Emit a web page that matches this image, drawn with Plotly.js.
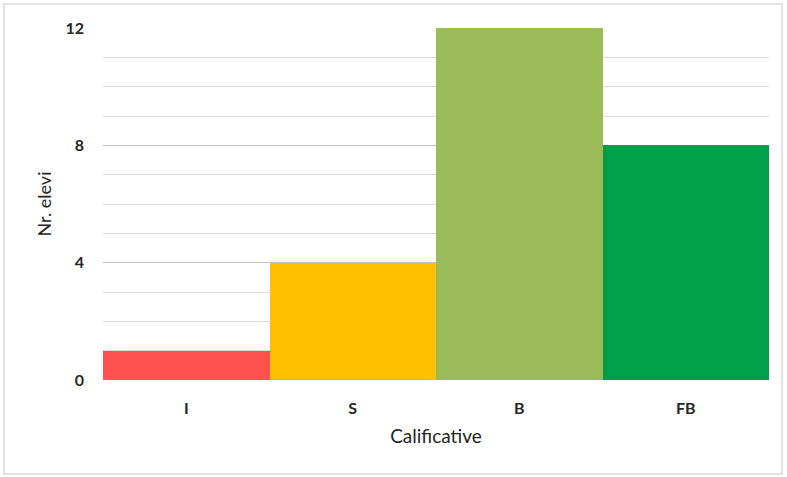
<!DOCTYPE html>
<html><head><meta charset="utf-8">
<script src="https://cdn.plot.ly/plotly-3.0.1.min.js"></script>
<style>html,body{margin:0;padding:0;background:#fff;}#chart{width:787px;height:477px;}</style>
</head><body><div id="chart"></div>
<script>
const categories = ['I', 'S', 'B', 'FB'];
const values = [1, 4, 12, 8];
const barColors = ['#FF5050', '#FFC000', '#9BBB59', '#00A04A'];
const yTicks = [0, 4, 8, 12];

const L = 103, R = 787 - 769, T = 28, B = 477 - 380;
const pw = 787 - L - R, ph = 477 - T - B;
const px = x => (x - L) / pw;
const py = y => (477 - B - y) / ph;

const data = [{
  type: 'bar', x: categories, y: values,
  marker: {color: barColors, line: {width: 0}},
  hoverinfo: 'x+y'
}];
const layout = {
  width: 787, height: 477,
  margin: {l: L, r: R, t: T, b: B},
  paper_bgcolor: '#fff', plot_bgcolor: '#fff',
  bargap: 0, showlegend: false,
  font: {family: 'Lato, "Open Sans", sans-serif', color: '#262626'},
  xaxis: {
    type: 'category', showgrid: false, zeroline: false, showline: false,
    ticks: '', ticklabelstandoff: 17,
    tickfont: {size: 16, color: '#262626', weight: 'bold'},
    title: {text: 'Calificative', font: {size: 19, color: '#262626'}, standoff: 13}
  },
  yaxis: {
    range: [0, 12], tickvals: yTicks, ticktext: yTicks.map(String),
    showgrid: true, gridcolor: '#BFBFBF', gridwidth: 1.3,
    zeroline: false, showline: false, ticks: '', ticklabelstandoff: 18,
    tickfont: {size: 16, color: '#262626', weight: 'bold'},
    minor: {dtick: 1, showgrid: true, gridcolor: '#DCDCDC', gridwidth: 1},
    title: {text: 'Nr. elevi', font: {size: 18, color: '#262626'}, standoff: 9}
  },
  shapes: [{
    type: 'rect', xref: 'paper', yref: 'paper', layer: 'below',
    x0: px(4), x1: px(782), y0: py(474), y1: py(4),
    line: {color: '#D9D9D9', width: 1.5}, fillcolor: 'rgba(0,0,0,0)'
  }]
};
Plotly.newPlot('chart', data, layout, {displayModeBar: false, staticPlot: true});
</script></body></html>
